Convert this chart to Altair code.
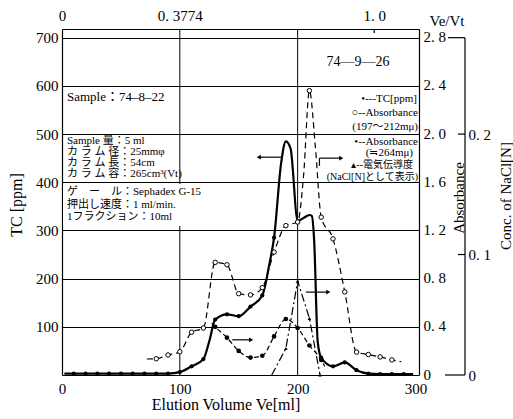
import altair as alt
import pandas as pd

# ---------------- data ----------------
# TC (ppm) - solid line, filled dots
tc_ml = [2, 10, 20, 30, 40, 50, 60, 70, 80, 90, 100, 110, 120, 125, 130, 140, 150, 160, 170, 176, 180,
         186, 190, 194, 200, 205, 210, 212, 214, 217, 220, 230, 240, 250, 260, 270, 280, 290, 298]
tc_ppm = [3, 3, 3, 3, 3, 3, 3, 3, 3, 3, 6, 18, 33, 70, 115, 126, 122, 142, 165, 230, 285,
          440, 485, 470, 320, 326, 332, 330, 280, 70, 36, 18, 26, 10, 3, 2, 2, 2, 2]
tc_marked = [10, 20, 30, 40, 50, 60, 70, 80, 90, 100, 110, 120, 130, 140, 150, 160, 170, 180,
             220, 230, 240, 250, 260, 270, 280, 290]

# Absorbance (197~212 mμ) - dashed, open circles
a1_ml = [72, 80, 90, 100, 110, 120, 130, 140, 150, 160, 170, 180, 190, 200, 205, 210, 215, 220,
         230, 240, 250, 260, 270, 280, 288]
a1_abs = [0.133, 0.135, 0.166, 0.193, 0.355, 0.39, 0.935, 0.915, 0.675, 0.665, 0.725, 1.02, 1.24, 1.27,
          1.65, 2.36, 1.9, 1.31, 1.13, 0.69, 0.19, 0.17, 0.15, 0.125, 0.11]
a1_marked = [80, 90, 100, 110, 120, 130, 140, 150, 160, 170, 180, 190, 200, 210, 220, 230, 240,
             250, 260, 270, 280]

# Absorbance (≒264 mμ) - dashed, filled dots
a2_ml = [127, 130, 140, 150, 160, 170, 180, 190, 200, 210, 220, 223]
a2_abs = [0.43, 0.40, 0.31, 0.20, 0.145, 0.16, 0.32, 0.465, 0.39, 0.245, 0.125, 0.07]
a2_marked = [130, 140, 150, 160, 170, 180, 190, 200, 210, 220]

# Conductivity (as NaCl [N]) - dash-dot, small triangles
c_ml = [178, 190, 200, 210, 219]
c_n = [0.0, 0.022, 0.078, 0.047, 0.0]
c_marked = [190, 200, 210, 219]

# axis tick values
tc_ticks = [100, 200, 300, 400, 500, 600, 700]
abs_ticks = [0, 0.4, 0.8, 1.2, 1.6, 2.0, 2.4, 2.8]
na_ticks = [0, 0.1, 0.2]
ml_ticks = [0, 100, 200, 300]
vt_ticks = [0, 0.3774, 1.0]

# ---------------- layout ----------------
W, H = 357, 346
L, T = 62, 29
SERIF = "'Liberation Serif', 'Noto Sans CJK JP', serif"
XMAX = 303

def X(field="ml"):
    return alt.X(f"{field}:Q", scale=alt.Scale(domain=[0, XMAX], nice=False, zero=False), axis=None)

def Y(field, dom, axis=None):
    return alt.Y(f"{field}:Q", scale=alt.Scale(domain=dom, nice=False, zero=False), axis=axis)

TCD = [0, 718]
ABD = [0, 2.872]
NAD = [0, 0.2872]

lab = dict(labelFont=SERIF, labelFontSize=15, labelColor="black", ticks=False,
           domainColor="black", domainWidth=1.2, title=None, labelFlush=False, labelOverlap=False)

tc_df = pd.DataFrame({"ml": tc_ml, "v": tc_ppm})
a1_df = pd.DataFrame({"ml": a1_ml, "v": a1_abs})
a2_df = pd.DataFrame({"ml": a2_ml, "v": a2_abs})
c_df = pd.DataFrame({"ml": c_ml, "v": c_n})

# vertical grid lines
vgrid = alt.Chart(pd.DataFrame({"ml": [100, 200]})).mark_rule(color="black", strokeWidth=1).encode(
    x=X(), y=alt.value(0), y2=alt.value(H))

# white patch behind the column-condition text
patch = alt.Chart(pd.DataFrame({"x": [1], "x2": [136], "y": [155], "y2": [197]})).mark_rect(
    color="white").encode(x=alt.X("x:Q", scale=None), x2="x2:Q",
                          y=alt.Y("y:Q", scale=None), y2="y2:Q")

# TC
tc_line = alt.Chart(tc_df).mark_line(color="black", strokeWidth=2.2, interpolate="monotone").encode(
    x=alt.X("ml:Q", scale=alt.Scale(domain=[0, XMAX], nice=False, zero=False),
            axis=alt.Axis(orient="bottom", values=ml_ticks, labelPadding=6, grid=False, **lab)),
    y=Y("v", TCD, alt.Axis(orient="left", values=tc_ticks, labelPadding=4, grid=True,
                           gridColor="black", gridWidth=1, gridOpacity=1, **lab)))
tc_pts = alt.Chart(tc_df).transform_filter(
    alt.FieldOneOfPredicate(field="ml", oneOf=tc_marked)).mark_point(
    filled=True, color="black", size=18, opacity=1).encode(x=X(), y=Y("v", TCD))

# Absorbance 197-212
abs_expr = "datum.value == 0 ? '0' : replace(format(datum.value, '.1f'), '.', '. ')"
a1_line = alt.Chart(a1_df).mark_line(color="black", strokeWidth=1.2, strokeDash=[6, 4],
                                     interpolate="monotone").encode(
    x=X(), y=Y("v", ABD, alt.Axis(orient="right", values=abs_ticks, labelPadding=4, grid=False,
                                  labelOffset=-1, labelExpr=abs_expr, **lab)))
a1_pts = alt.Chart(a1_df).transform_filter(
    alt.FieldOneOfPredicate(field="ml", oneOf=a1_marked)).mark_point(
    filled=True, fill="white", stroke="black", strokeWidth=1, size=20, opacity=1).encode(
    x=X(), y=Y("v", ABD))

# Absorbance 264
a2_line = alt.Chart(a2_df).mark_line(color="black", strokeWidth=1.2, strokeDash=[5, 3],
                                     interpolate="monotone").encode(x=X(), y=Y("v", ABD))
a2_pts = alt.Chart(a2_df).transform_filter(
    alt.FieldOneOfPredicate(field="ml", oneOf=a2_marked)).mark_point(
    filled=True, color="black", size=22, opacity=1).encode(x=X(), y=Y("v", ABD))

# Conductivity
na_expr = "datum.value == 0 ? '0' : replace(format(datum.value, '.1f'), '.', '. ')"
c_line = alt.Chart(c_df).mark_line(color="black", strokeWidth=1.2, strokeDash=[8, 3, 2, 3]).encode(
    x=X(), y=Y("v", NAD, alt.Axis(orient="right", offset=46, values=na_ticks, labelPadding=3,
                                  grid=False, domain=False, labelExpr=na_expr, **lab)))
c_pts = alt.Chart(c_df).transform_filter(
    alt.FieldOneOfPredicate(field="ml", oneOf=c_marked)).mark_point(
    filled=True, color="black", size=14, shape="triangle-up", opacity=1).encode(x=X(), y=Y("v", NAD))

# hand-drawn third axis line with inward ticks
na_axis_df = pd.DataFrame({"v": [0, 0.1, 0.2, 0.28], "x1": [383, 396, 396, 386], "x2": [W + 46] * 4})
na_ticks_l = alt.Chart(na_axis_df).mark_rule(color="black", strokeWidth=1.2).encode(
    x=alt.X("x1:Q", scale=None), x2="x2:Q", y=Y("v", NAD))
na_spine = alt.Chart(pd.DataFrame({"a": [0], "b": [0.28]})).mark_rule(color="black", strokeWidth=1.2).encode(
    x=alt.value(W + 46), y=Y("a", NAD), y2="b:Q")

# top Ve/Vt axis
vt_expr = ("datum.value == 0 ? '0' : replace(format(datum.value, datum.value == 1 ? '.1f' : '.4f'), '.', '. ')")
top = alt.Chart(pd.DataFrame({"vt": [1.0]})).mark_rule(color="black", strokeWidth=1.2).encode(
    x=alt.X("vt:Q", scale=alt.Scale(domain=[0, XMAX / 265], nice=False, zero=False),
            axis=alt.Axis(orient="top", values=vt_ticks, labelPadding=6, grid=False,
                          labelExpr=vt_expr, **lab)),
    y=alt.value(0), y2=alt.value(4))

# arrows (in ml / TC units)
arrows = pd.DataFrame({"x1": [186, 218.5, 207, 144.5], "x2": [167, 237, 226, 160.5],
                       "y": [452, 450, 172, 73],
                       "shape": ["triangle-left", "triangle-right", "triangle-right", "triangle-right"]})
arr_rule = alt.Chart(arrows).mark_rule(color="black", strokeWidth=1.2).encode(
    x=X("x1"), x2="x2:Q", y=Y("y", TCD))
arr_head = alt.Chart(arrows).mark_point(filled=True, color="black", size=22, opacity=1).encode(
    x=X("x2"), y=Y("y", TCD), shape=alt.Shape("shape:N", scale=None))
stub = alt.Chart(pd.DataFrame({"ml": [218.5], "a": [450], "b": [434]})).mark_rule(
    color="black", strokeWidth=1.2).encode(x=X(), y=Y("a", TCD), y2="b:Q")

# ---------------- texts (page pixels) ----------------
def texts(rows, align, angle=0):
    df = pd.DataFrame(rows, columns=["t", "px", "py", "s"])
    df["x"] = df["px"] - L
    df["y"] = df["py"] - T
    return alt.Chart(df).mark_text(align=align, baseline="middle", font=SERIF, color="black",
                                   angle=angle).encode(
        x=alt.X("x:Q", scale=None), y=alt.Y("y:Q", scale=None), text="t:N",
        size=alt.Size("s:Q", scale=None, legend=None))

left_txt = texts([
    ("Sample：74–8–22", 67, 97, 13),
    ("Sample 量：5 ml", 67, 141, 11),
    ("カ ラ ム 径：25mmφ", 67, 152, 11),
    ("カ ラ ム 長：54cm", 67, 163, 11),
    ("カ ラ ム 容：265cm³(Vt)", 67, 174, 11),
    ("ゲ　ー　ル：Sephadex G-15", 67, 192, 11),
    ("押出し速度：1 ml/min.", 67, 205, 11),
    ("1フラクション：10ml", 67, 217, 11),
], "left")

right_txt = texts([
    ("•---TC[ppm]", 417, 99, 11),
    ("○--Absorbance", 418, 113, 11),
    ("(197〜212mμ)", 418, 127, 11),
    ("•--Absorbance", 418, 142, 11),
    ("(≒264mμ)", 413, 153, 11),
    ("▴--電気伝導度", 413, 165, 10),
    ("(NaCl[N]として表示)", 418, 177, 10),
], "right")

center_txt = texts([
    ("74—9—26", 358, 62, 14),
    ("Elution Volume Ve[ml]", 226, 405, 16),
    ("Ve/Vt", 447, 21, 15),
], "center")

rot_txt = texts([
    ("TC [ppm]", 17, 205, 16),
    ("Absorbance", 459, 198, 15),
    ("Conc. of NaCl[N]", 506, 196, 15),
], "center", angle=270)

chart = alt.layer(
    vgrid, patch, tc_line, tc_pts, a1_line, a1_pts, a2_line, a2_pts, c_line, c_pts,
    na_ticks_l, na_spine, top, arr_rule, arr_head, stub,
    left_txt, right_txt, center_txt, rot_txt
).resolve_scale(x="independent", y="independent").properties(
    width=W, height=H,
    autosize=alt.AutoSizeParams(type="none"),
    padding={"left": L, "top": T, "right": 513 - L - W, "bottom": 419 - T - H},
    background="white",
).configure_view(strokeWidth=0)

chart.save("out.html", embed_options={"renderer": "svg", "actions": False})
